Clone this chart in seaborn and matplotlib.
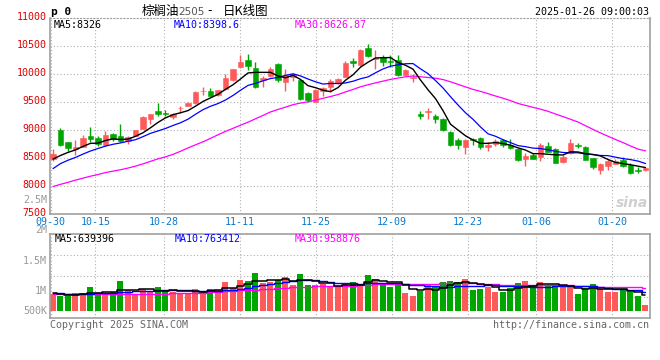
import numpy as np
import pandas as pd
import matplotlib
matplotlib.use('Agg')
import matplotlib.pyplot as plt
import matplotlib.transforms as mtrans
import seaborn as sns

# trading days shown (index 0..79)
dates = ['09-30', '10-08', '10-09', '10-10', '10-11', '10-14', '10-15', '10-16', '10-17', '10-18',
         '10-21', '10-22', '10-23', '10-24', '10-25', '10-28', '10-29', '10-30', '10-31', '11-01',
         '11-04', '11-05', '11-06', '11-07', '11-08', '11-11', '11-12', '11-13', '11-14', '11-15',
         '11-18', '11-19', '11-20', '11-21', '11-22', '11-25', '11-26', '11-27', '11-28', '11-29',
         '12-02', '12-03', '12-04', '12-05', '12-06', '12-09', '12-10', '12-11', '12-12', '12-13',
         '12-16', '12-17', '12-18', '12-19', '12-20', '12-23', '12-24', '12-25', '12-26', '12-27',
         '12-30', '12-31', '01-02', '01-03', '01-06', '01-07', '01-08', '01-09', '01-10', '01-13',
         '01-14', '01-15', '01-16', '01-17', '01-20', '01-21', '01-22', '01-23', '01-24', '01-27']

opens = [8488, 9000, 8786, 8667, 8702, 8893, 8857, 8738, 8929, 8893,
         8804, 8893, 9018, 9196, 9339, 9304, 9232, 9387, 9429, 9482,
         9690, 9696, 9625, 9726, 9893, 10125, 10250, 10107, 9899, 9964,
         10178, 9857, 9940, 9893, 9661, 9500, 9696, 9768, 9839, 9946,
         10232, 10161, 10458, 10268, 10309, 10226, 10250, 9988, 9934, 9280,
         9315, 9250, 9196, 8964, 8821, 8702, 8845, 8851, 8702, 8750,
         8821, 8733, 8655, 8483, 8554, 8524, 8715, 8655, 8435, 8584,
         8739, 8697, 8500, 8286, 8364, 8387, 8465, 8375, 8286, 8286]
highs = [8655, 9030, 8790, 8821, 8911, 9054, 8893, 8982, 8940, 9107,
         8890, 9005, 9245, 9290, 9482, 9357, 9304, 9429, 9500, 9696,
         9768, 9744, 9720, 9994, 10095, 10339, 10357, 10214, 9964, 10125,
         10196, 10089, 10024, 9911, 9679, 9732, 9768, 9911, 9934, 10232,
         10286, 10440, 10536, 10428, 10339, 10339, 10339, 10083, 10000, 9339,
         9393, 9286, 9220, 8982, 8863, 8839, 8863, 8869, 8786, 8839,
         8839, 8840, 8673, 8584, 8584, 8762, 8786, 8673, 8554, 8840,
         8774, 8715, 8505, 8417, 8483, 8477, 8524, 8405, 8334, 8346]
lows = [8440, 8720, 8631, 8560, 8700, 8792, 8714, 8720, 8810, 8786,
        8750, 8890, 9010, 9107, 9250, 9250, 9196, 9304, 9425, 9464,
        9625, 9600, 9613, 9720, 9881, 10107, 10071, 9750, 9768, 9946,
        9857, 9696, 9881, 9536, 9500, 9495, 9607, 9678, 9821, 9940,
        10125, 10143, 10309, 10089, 10143, 10131, 9970, 9970, 9863, 9190,
        9196, 9131, 8982, 8714, 8661, 8571, 8732, 8667, 8631, 8714,
        8696, 8661, 8453, 8364, 8480, 8453, 8602, 8405, 8405, 8566,
        8673, 8459, 8298, 8215, 8286, 8385, 8346, 8215, 8239, 8274]
closes = [8571, 8732, 8679, 8696, 8857, 8845, 8750, 8911, 8845, 8804,
          8875, 9000, 9232, 9286, 9286, 9280, 9286, 9399, 9482, 9679,
          9702, 9607, 9714, 9928, 10089, 10214, 10149, 9768, 9928, 10089,
          9893, 9982, 9994, 9553, 9536, 9714, 9750, 9875, 9911, 10196,
          10196, 10428, 10321, 10291, 10220, 10208, 9988, 10071, 9946, 9250,
          9339, 9196, 9000, 8732, 8732, 8821, 8821, 8702, 8732, 8804,
          8732, 8673, 8465, 8536, 8483, 8733, 8614, 8417, 8524, 8768,
          8715, 8465, 8346, 8387, 8453, 8453, 8364, 8239, 8262, 8328]
volumes = [689000, 620000, 620000, 729000, 729000, 972000, 689000, 700000, 770000, 1215000,
           850000, 648000, 891000, 782000, 972000, 850000, 770000, 729000, 729000, 891000,
           810000, 891000, 850000, 1175000, 932000, 1256000, 1215000, 1539000, 1146000, 1187000,
           1256000, 1377000, 1053000, 1499000, 1053000, 1053000, 1106000, 960000, 960000, 1146000,
           1187000, 1094000, 1458000, 1296000, 1053000, 984000, 1122000, 729000, 608000, 822000,
           1094000, 1013000, 1175000, 1215000, 1187000, 1296000, 851000, 891000, 960000, 770000,
           782000, 932000, 1134000, 1215000, 1013000, 1175000, 1013000, 1013000, 960000, 960000,
           689000, 932000, 1094000, 879000, 770000, 770000, 851000, 782000, 608000, 243000]

# moving averages at the start of the window (they use days before 09-30)
ma5_head = [8480, 8545, 8600, 8645]
ma10_head = [8310, 8400, 8460, 8510, 8570, 8625, 8670, 8712, 8745]
ma30_head = [7990, 8030, 8065, 8105, 8140, 8175, 8205, 8240, 8265, 8290,
             8320, 8355, 8395, 8440, 8485, 8520, 8565, 8620, 8680, 8735,
             8790, 8850, 8915, 8975, 9030, 9085, 9140, 9200, 9260]
vma5_head = [717000, 689000, 636000, 636000]
vma10_head = [717000, 709000, 701000, 697000, 693000, 697000, 713000, 729000, 749000]
vma30_head = [680000, 681000, 683000, 684000, 686000, 688000, 690000, 692000, 694000, 696000,
              698000, 700000, 702000, 704000, 706000, 708000, 710000, 712000, 713000, 715000,
              730000, 750000, 770000, 795000, 820000, 840000, 855000, 870000, 885000]

price_ticks = [11000, 10500, 10000, 9500, 9000, 8500, 8000, 7500]
date_ticks = ['09-30', '10-15', '10-28', '11-11', '11-25', '12-09', '12-23', '01-06', '01-20']
vol_labels = ['2.5M', '2M', '1.5M', '1M', '500K']

UP, DOWN = '#ff5a5a', '#00a600'
GRID = '#b0b0b0'
FRAME = '#a0a0a0'

df = pd.DataFrame({'date': dates, 'open': opens, 'high': highs, 'low': lows,
                   'close': closes, 'volume': volumes})
df['i'] = np.arange(len(df))


def with_head(series, n, head):
    out = series.rolling(n).mean().to_numpy()
    out[:len(head)] = head
    return out


df['ma5'] = with_head(df['close'], 5, ma5_head)
df['ma10'] = with_head(df['close'], 10, ma10_head)
df['ma30'] = with_head(df['close'], 30, ma30_head)
df['vma5'] = with_head(df['volume'], 5, vma5_head)
df['vma10'] = with_head(df['volume'], 10, vma10_head)
df['vma30'] = with_head(df['volume'], 30, vma30_head)

sns.set_theme(style='white')
plt.rcParams['font.family'] = ['DejaVu Sans Mono', 'Noto Sans CJK SC']

W, H = 660, 360
fig = plt.figure(figsize=(W / 100, H / 100), dpi=100)
fig.patch.set_facecolor('white')


def box(l, t, r, b):
    return [l / W, 1 - b / H, (r - l) / W, (b - t) / H]


ax = fig.add_axes(box(50.5, 18, 650, 214))
axv = fig.add_axes(box(50.5, 234, 650, 318))

x = df['i'].to_numpy()
cols = np.where(df['close'] >= df['open'], UP, DOWN)

# candles
ax.vlines(x, df['low'], df['high'], colors=cols, lw=1.0, zorder=3)
body_lo = np.minimum(df['open'], df['close'])
body_h = np.maximum((df['close'] - df['open']).abs(), 10)
ax.bar(x, body_h, bottom=body_lo, width=0.68, color=cols, edgecolor=cols, lw=0.4, zorder=4)

sns.lineplot(data=df, x='i', y='ma30', color='#ff00ff', lw=0.9, ax=ax, zorder=5)
sns.lineplot(data=df, x='i', y='ma10', color='#0000ff', lw=0.9, ax=ax, zorder=5)
sns.lineplot(data=df, x='i', y='ma5', color='black', lw=1.0, ax=ax, zorder=6)

# volume
axv.bar(x, df['volume'], width=0.8, color=cols, lw=0, zorder=2)
sns.lineplot(data=df, x='i', y='vma30', color='#ff00ff', lw=1.0, drawstyle='steps-mid', ax=axv, zorder=4)
sns.lineplot(data=df, x='i', y='vma10', color='#0000ff', lw=1.0, drawstyle='steps-mid', ax=axv, zorder=4)
sns.lineplot(data=df, x='i', y='vma5', color='black', lw=1.1, drawstyle='steps-mid', ax=axv, zorder=5)

# axes styling
xlim = (-0.333, 79.6)
tick_pos = [max(dates.index(d) * 1.0137 - 0.44, xlim[0] + 0.01) for d in date_ticks]

for a in (ax, axv):
    a.set_xlim(*xlim)
    a.set_xlabel('')
    a.set_ylabel('')
    a.set_xticks(tick_pos)
    a.grid(True, color=GRID, ls=(0, (1, 2)), lw=0.8)
    a.set_axisbelow(True)
    for s in a.spines.values():
        s.set_color(FRAME)
        s.set_linewidth(1.2)
    a.tick_params(length=0)

ax.spines['top'].set_linestyle((0, (1, 2)))
ax.spines['top'].set_linewidth(0.8)

ax.set_ylim(7500, 11000)
ax.set_yticks(price_ticks)
ax.set_yticklabels([str(t) for t in price_ticks], color='#e00000', fontsize=7.2)
ax.tick_params(axis='y', pad=3)
shift = mtrans.ScaledTranslation(0, 2 / 100, fig.dpi_scale_trans)
for lab in ax.get_yticklabels():
    lab.set_transform(lab.get_transform() + shift)
ax.set_xticklabels(date_ticks, color='#0a78cc', fontsize=7.2)
ax.tick_params(axis='x', pad=2)

vlo, vhi = -283500, 3118500
axv.set_ylim(vlo, vhi)
axv.set_yticks(np.linspace(vlo, vhi, 5)[1:-1])
axv.set_yticklabels([])
axv.set_xticklabels([])

# volume scale labels as printed by the source
for lab, ypx in zip(vol_labels, [200, 230, 261, 291, 311]):
    fig.text(47 / W, 1 - ypx / H, lab, ha='right', va='center', color='#999999', fontsize=7.2)

# header
def ftext(xp, yp, s, **kw):
    kw.setdefault('va', 'center')
    return fig.text(xp / W, 1 - yp / H, s, **kw)


ftext(51, 12, 'p 0', fontsize=8, fontweight='bold', color='black')
ftext(142, 11, '棕榈油', fontsize=9, family='Noto Sans CJK SC', color='black')
ftext(178, 12, '2505', fontsize=7.5, family='DejaVu Sans', color='#555555')
ftext(207, 11, '-', fontsize=9, family='DejaVu Sans', color='black')
ftext(223, 11, '日K线图', fontsize=9, family='Noto Sans CJK SC', color='black')
ftext(649, 12, '2025-01-26 09:00:03', ha='right', fontsize=7.2, color='black')

ftext(54, 24.5, 'MA5:8326', fontsize=7.2, color='black')
ftext(174, 24.5, 'MA10:8398.6', fontsize=7.2, color='#0000ff')
ftext(295, 24.5, 'MA30:8626.87', fontsize=7.2, color='#ff00ff')

ftext(55, 239, 'MA5:639396', fontsize=7.2, color='black')
ftext(175, 239, 'MA10:763412', fontsize=7.2, color='#0000ff')
ftext(295, 239, 'MA30:958876', fontsize=7.2, color='#ff00ff')

ftext(50, 325, 'Copyright 2025 SINA.COM', fontsize=7.2, color='#666666')
ftext(649, 325, 'http://finance.sina.com.cn', ha='right', fontsize=7.2, color='#666666')

ftext(648, 203, 'sina', ha='right', fontsize=10, family='DejaVu Sans', fontstyle='italic',
      fontweight='bold', color='#cfcfcf')

plt.savefig('out.png', dpi=100)
plt.close()
